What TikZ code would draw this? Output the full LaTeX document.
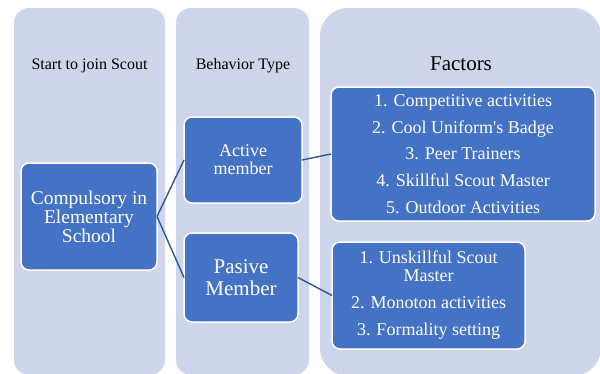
\documentclass[tikz,border=0pt]{standalone}
\usepackage{fontspec}
\setmainfont{Liberation Serif}[Ligatures=TeXOff]
\definecolor{lanefill}{RGB}{207,213,234}
\definecolor{boxfill}{RGB}{68,114,196}
\definecolor{linkblue}{RGB}{47,85,151}
\begin{document}
\begin{tikzpicture}[x=1pt,y=-1pt,
  lane/.style={fill=lanefill,draw=none,rounded corners=15pt},
  heading/.style={inner sep=0pt,outer sep=0pt,anchor=base,text=black},
  stagebox/.style={fill=boxfill,draw=white,line width=1.5pt,rounded corners=8pt,text=white,align=center,inner sep=0pt,outer sep=0pt},
  link/.style={draw=linkblue,line width=1.4pt}]
\path[use as bounding box] (0,0) rectangle (600,373);
\path[fill=white,draw=none] (0,0) rectangle (600,373);
\path[lane] (14,8) rectangle (165,375);
\path[lane] (176,8) rectangle (309,375);
\path[lane,rounded corners=28pt] (320,8) rectangle (601,376);
\node[heading,font=\fontsize{16}{19}\selectfont] (hstart) at (89.5,69) {Start to join Scout};
\node[heading,font=\fontsize{16}{19}\selectfont] (htype) at (243,69) {Behavior Type};
\node[heading,font=\fontsize{21}{25}\selectfont] (hfact) at (461,70) {Factors};
\node[stagebox,minimum width=136pt,minimum height=107pt,font=\fontsize{19.5}{19}\selectfont] (comp) at (89,216.5) {Compulsory in\\Elementary\\School};
\node[stagebox,minimum width=118pt,minimum height=86pt,font=\fontsize{18}{18}\selectfont] (active) at (243,160) {Active\\member};
\node[stagebox,minimum width=114pt,minimum height=89pt,font=\fontsize{21}{22}\selectfont] (passive) at (241,277.5) {Pasive\\Member};
\node[stagebox,minimum width=264pt,minimum height=134pt,font=\fontsize{18}{26.7}\selectfont] (factact) at (463,154) {1. Competitive activities\\2. Cool Uniform's Badge\\3. Peer Trainers\\4. Skillful Scout Master\\5. Outdoor Activities};
\node[stagebox,minimum width=193pt,minimum height=107pt,font=\fontsize{18}{18}\selectfont] (factpas) at (428.5,295.5) {1. Unskillful Scout\\Master\\[9pt]2. Monoton activities\\[9pt]3. Formality setting};
\draw[link] (comp.east) -- (active.west);
\draw[link] (comp.east) -- (passive.west);
\draw[link] (active.east) -- (factact.west);
\draw[link] (passive.east) -- (factpas.west);
\end{tikzpicture}
\end{document}
